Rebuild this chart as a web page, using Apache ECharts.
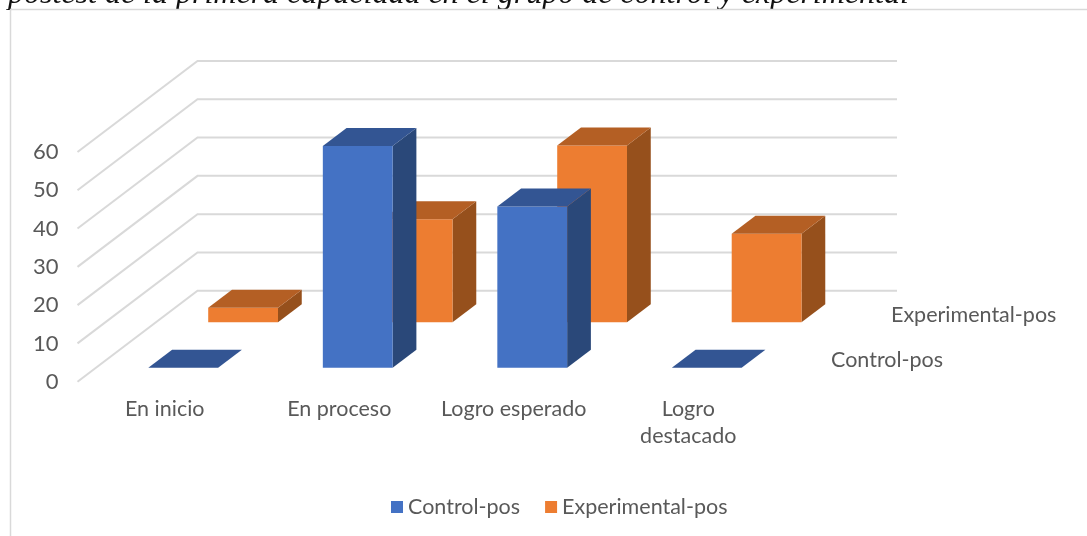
<!DOCTYPE html>
<html><head><meta charset="utf-8">
<style>html,body{margin:0;padding:0;background:#fff}#c{width:1087px;height:536px}</style>
<script src="https://cdn.jsdelivr.net/npm/echarts@6/dist/echarts.min.js"></script>
</head><body><div id="c"></div>
<script>
const categories = ['En inicio', 'En proceso', 'Logro esperado', 'Logro\ndestacado'];
const controlPos = [0, 57.9, 42.1, 0];
const experimentalPos = [3.8, 26.9, 46.2, 23.1];
const yTicks = [0, 10, 20, 30, 40, 50, 60];
const seriesNames = ['Control-pos', 'Experimental-pos'];
const titleText = 'postest de la primera capacidad en el grupo de control y experimental';

const FONT = 'Lato';
const TXT = '#595959';
const DX = 120, DY = -91;
const project = (api, cat, val, d) => {
  const p = api.coord([cat, val]);
  return [p[0] + d * DX, p[1] + d * DY];
};
const bw = 0.4;
function barRenderer(d0, d1, cFront, cTop, cSide) {
  return function (params, api) {
    const cat = api.value(0), val = api.value(1);
    const band = api.size([1, 0])[0];
    const half = band * bw / 2;
    const a = project(api, cat, 0, d0), b = project(api, cat, val, d0);
    const ax = a[0], ay = a[1], by = b[1];
    const ddx = (d1 - d0) * DX, ddy = (d1 - d0) * DY;
    const L = ax - half, R = ax + half;
    const kids = [];
    if (val > 0) {
      kids.push({ type: 'polygon', shape: { points: [[R, ay], [R + ddx, ay + ddy], [R + ddx, by + ddy], [R, by]] }, style: { fill: cSide } });
      kids.push({ type: 'polygon', shape: { points: [[L, ay], [R, ay], [R, by], [L, by]] }, style: { fill: cFront } });
    }
    kids.push({ type: 'polygon', shape: { points: [[L, by], [R, by], [R + ddx, by + ddy], [L + ddx, by + ddy]] }, style: { fill: cTop } });
    return { type: 'group', children: kids };
  };
}
const wallData = yTicks.map(v => [0, v]);
const depthData = seriesNames.map((n, i) => [categories.length - 1, 0, i]);

const option = {
  animation: false,
  backgroundColor: '#fff',
  graphic: [
    { type: 'text', z: 0, style: { x: 8, y: 11, text: titleText, font: 'italic 32px "Liberation Serif"', fill: '#111', textVerticalAlign: 'bottom' } },
    { type: 'polyline', z: 2, shape: { points: [[10.5, 536], [10.5, 9.5], [1087, 9.5]] }, style: { stroke: '#d9d9d9', lineWidth: 1.5, fill: null } }
  ],
  legend: {
    left: 386, top: 491, itemWidth: 12, itemHeight: 12, itemGap: 25, icon: 'rect',
    data: seriesNames,
    textStyle: { fontFamily: FONT, fontSize: 21.5, color: TXT }
  },
  grid: { left: 77.5, top: 152, width: 698, height: 229.7 },
  xAxis: {
    type: 'category', data: categories,
    axisLine: { show: false }, axisTick: { show: false }, splitLine: { show: false },
    axisLabel: { interval: 0, margin: 14, fontFamily: FONT, fontSize: 21.5, lineHeight: 27, color: TXT, verticalAlign: 'top' }
  },
  yAxis: {
    type: 'value', min: 0, max: 60, interval: 10,
    axisLine: { show: false }, axisTick: { show: false }, splitLine: { show: false },
    axisLabel: { margin: 19, fontFamily: FONT, fontSize: 22, color: TXT }
  },
  series: [
    {
      type: 'custom', silent: true, legendHoverLink: false, z: 1, clip: false,
      encode: { x: 0, y: 1 }, data: wallData,
      renderItem: (params, api) => {
        const v = api.value(1);
        const f = api.coord([0, v]);
        const band = api.size([1, 0])[0];
        const start = [f[0] - band / 2, f[1]];
        const back = [start[0] + DX, start[1] + DY];
        return { type: 'polyline', shape: { points: [start, back, [back[0] + band * categories.length + 1.5, back[1]]] }, style: { stroke: '#d9d9d9', lineWidth: 2, fill: null } };
      }
    },
    {
      name: seriesNames[1], type: 'custom', z: 2, clip: false,
      itemStyle: { color: '#ED7D31' }, encode: { x: 0, y: 1 },
      data: experimentalPos.map((v, i) => [i, v]),
      renderItem: barRenderer(0.653, 0.851, '#ED7D31', '#B45F24', '#96501C')
    },
    {
      name: seriesNames[0], type: 'custom', z: 3, clip: false,
      itemStyle: { color: '#4472C4' }, encode: { x: 0, y: 1 },
      data: controlPos.map((v, i) => [i, v]),
      renderItem: barRenderer(0.154, 0.352, '#4472C4', '#335593', '#2A4879')
    },
    {
      type: 'custom', silent: true, z: 4, clip: false,
      encode: { x: 0, y: 1 }, data: depthData,
      renderItem: (params, api) => {
        const i = api.value(2);
        const band = api.size([1, 0])[0];
        const p = project(api, api.value(0), 0, 0.25 + 0.5 * i);
        return { type: 'text', style: { x: p[0] + band / 2 + 25.5, y: p[1] + 1.5, text: seriesNames[i], font: '21.5px ' + FONT, fill: TXT, textAlign: 'left', textVerticalAlign: 'middle' } };
      }
    }
  ]
};
echarts.init(document.getElementById('c'), null, { renderer: 'canvas' }).setOption(option);
</script></body></html>
